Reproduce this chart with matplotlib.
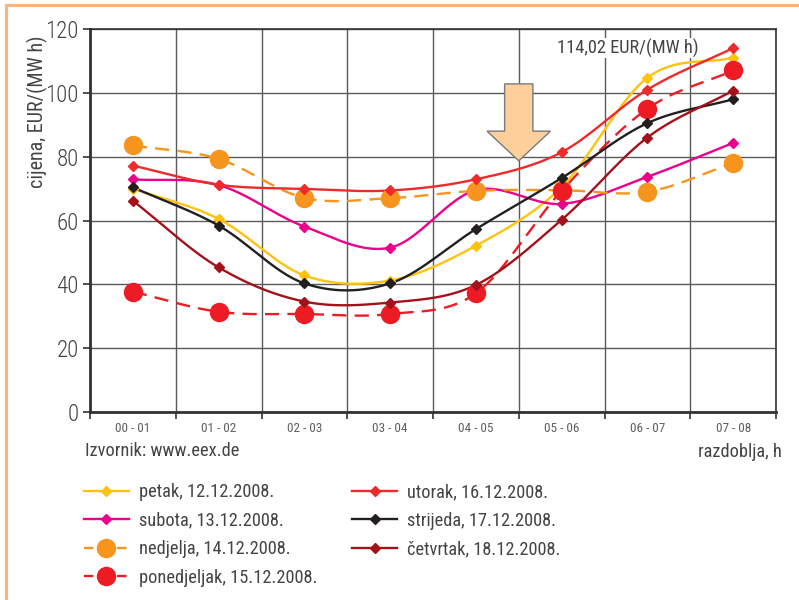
import numpy as np
import matplotlib
matplotlib.use("Agg")
import matplotlib.pyplot as plt
from matplotlib.lines import Line2D
from matplotlib.patches import Polygon
from matplotlib import font_manager as fm

available = {f.name for f in fm.fontManager.ttflist}
narrow = None
for cand in ['Liberation Sans Narrow', 'DejaVu Sans Condensed', 'Roboto Condensed', 'Open Sans Condensed']:
    if cand in available:
        narrow = cand
        break
if narrow is None:
    narrow = 'Liberation Sans'
    scale = 0.8
else:
    scale = 1.0
plt.rcParams['font.family'] = [narrow, 'DejaVu Sans']
plt.rcParams['font.weight'] = 'normal'

categories = ["00 - 01", "01 - 02", "02 - 03", "03 - 04", "04 - 05", "05 - 06", "06 - 07", "07 - 08"]

petak = [70.0, 60.5, 42.8, 41.2, 52.1, 70.5, 104.7, 111.0]
subota = [72.9, 71.1, 58.1, 51.5, 69.5, 65.2, 73.7, 84.3]
nedjelja = [83.5, 79.3, 67.1, 67.0, 69.3, 69.5, 69.0, 78.0]
ponedjeljak = [37.7, 31.4, 30.7, 30.7, 37.2, 69.3, 95.0, 107.0]
utorak = [77.2, 71.2, 69.9, 69.4, 72.9, 81.4, 101.0, 114.02]
strijeda = [70.4, 58.4, 40.3, 40.3, 57.3, 73.3, 90.5, 98.0]
cetvrtak = [66.2, 45.3, 34.6, 34.3, 39.8, 60.2, 86.0, 100.7]

labels = ["petak, 12.12.2008.", "subota, 13.12.2008.", "nedjelja, 14.12.2008.",
          "ponedjeljak, 15.12.2008.", "utorak, 16.12.2008.", "strijeda, 17.12.2008.",
          "četvrtak, 18.12.2008."]

series = [petak, subota, nedjelja, ponedjeljak, utorak, strijeda, cetvrtak]
colors = ["#FFC20E", "#EC008C", "#F7941D", "#ED1C24", "#EE2A2A", "#231F20", "#A3121B"]
dashed = [False, False, True, True, False, False, False]

TXT = "#444444"
FS = 13.2 * scale


def catmull_rom(x, y, n=30):
    x = np.asarray(x, float)
    y = np.asarray(y, float)
    px = np.concatenate([[2 * x[0] - x[1]], x, [2 * x[-1] - x[-2]]])
    py = np.concatenate([[2 * y[0] - y[1]], y, [2 * y[-1] - y[-2]]])
    xs, ys = [], []
    t = np.linspace(0, 1, n, endpoint=False)
    for i in range(1, len(px) - 2):
        for P, out in ((px, xs), (py, ys)):
            p0, p1, p2, p3 = P[i - 1], P[i], P[i + 1], P[i + 2]
            out.append(0.5 * ((2 * p1) + (-p0 + p2) * t + (2 * p0 - 5 * p1 + 4 * p2 - p3) * t ** 2
                              + (-p0 + 3 * p1 - 3 * p2 + p3) * t ** 3))
    xs = np.concatenate(xs + [[x[-1]]])
    ys = np.concatenate(ys + [[y[-1]]])
    return xs, ys


fig = plt.figure(figsize=(7.99, 6.0), dpi=100)
ax = fig.add_axes([90 / 799, 1 - 412 / 600, (776 - 90) / 799, (412 - 29) / 600])

x = np.arange(len(categories))
handles = []
for vals, col, dsh, lab in zip(series, colors, dashed, labels):
    sx, sy = catmull_rom(x, vals)
    ls = (0, (6, 3.5)) if dsh else '-'
    ax.plot(sx, sy, color=col, lw=1.7, ls=ls, zorder=3, solid_capstyle='round')
    if dsh:
        ax.plot(x, vals, ls='none', marker='o', ms=13, color=col, zorder=4)
        handles.append(Line2D([], [], color=col, lw=1.7, ls=(0, (4, 3)), marker='o', ms=13))
    else:
        ax.plot(x, vals, ls='none', marker='D', ms=5, color=col, zorder=4)
        handles.append(Line2D([], [], color=col, lw=1.7, ls=ls, marker='D', ms=5))

ax.set_xlim(-0.5, len(categories) - 0.5)
ax.set_ylim(0, 120)
ax.set_yticks(np.arange(0, 121, 20))
ax.set_xticks(np.arange(-0.5, len(categories), 1.0))
ax.set_xticklabels([])
ax.set_xticks(x, minor=True)
ax.set_xticklabels(categories, minor=True)
ax.tick_params(axis='x', which='minor', length=0, pad=7, labelsize=9.5, labelcolor="#606060")
ax.tick_params(axis='x', which='major', length=5, width=1.2, color="#333333", direction='out')
ax.tick_params(axis='y', which='major', length=5, width=1.2, color="#333333", labelsize=16.5,
               labelcolor=TXT, pad=3)
for t in ax.get_yticklabels():
    t.set_fontweight('light')
ax.grid(True, which='major', color="#5a5a5a", lw=1.0, zorder=1)
for s in ['left', 'bottom']:
    ax.spines[s].set_linewidth(2.0)
    ax.spines[s].set_color("#333333")
for s in ['top', 'right']:
    ax.spines[s].set_linewidth(1.2)
    ax.spines[s].set_color("#333333")

ax.set_ylabel("cijena, EUR/(MW h)", fontsize=14.5, color=TXT)
ax.yaxis.set_label_coords(-0.061, 0.785)

# arrow annotation between 04-05 and 05-06
ax_c = 4.5
shaft_hw, head_hw = 0.165, 0.37
y_top, y_head, y_tip = 102.8, 88.0, 78.7
arrow = Polygon([(ax_c - shaft_hw, y_top), (ax_c + shaft_hw, y_top), (ax_c + shaft_hw, y_head),
                 (ax_c + head_hw, y_head), (ax_c, y_tip), (ax_c - head_hw, y_head),
                 (ax_c - shaft_hw, y_head)], closed=True, facecolor="#FDD09B",
                edgecolor="#7a7a7a", lw=1.0, zorder=5)
ax.add_patch(arrow)

ax.text(6.6, 114.0, "114,02 EUR/(MW h)", ha='right', va='center', fontsize=FS, color=TXT,
        zorder=6, bbox=dict(facecolor='white', edgecolor='none', pad=0.5))

fig.text(85 / 799, 1 - 451 / 600, "Izvornik: www.eex.de", ha='left', va='center', fontsize=FS, color=TXT)
fig.text(782 / 799, 1 - 452 / 600, "razdoblja, h", ha='right', va='center', fontsize=FS, color=TXT)

leg = fig.legend(handles, labels, ncol=2, loc='upper left', bbox_to_anchor=(84 / 799, 1 - 483 / 600),
                 frameon=False, fontsize=FS, handlelength=2.45, handletextpad=0.55,
                 columnspacing=1.9, labelspacing=0.58, labelcolor=TXT, borderpad=0,
                 borderaxespad=0)

# page border
bc = "#FBB47C"
fig.add_artist(Line2D([6 / 799, 1.0], [1 - 5 / 600, 1 - 5 / 600], color=bc, lw=2.2,
                      transform=fig.transFigure))
fig.add_artist(Line2D([6 / 799, 6 / 799], [0.0, 1 - 5 / 600], color=bc, lw=2.2,
                      transform=fig.transFigure))

fig.savefig("out.png", dpi=100, facecolor='white')
